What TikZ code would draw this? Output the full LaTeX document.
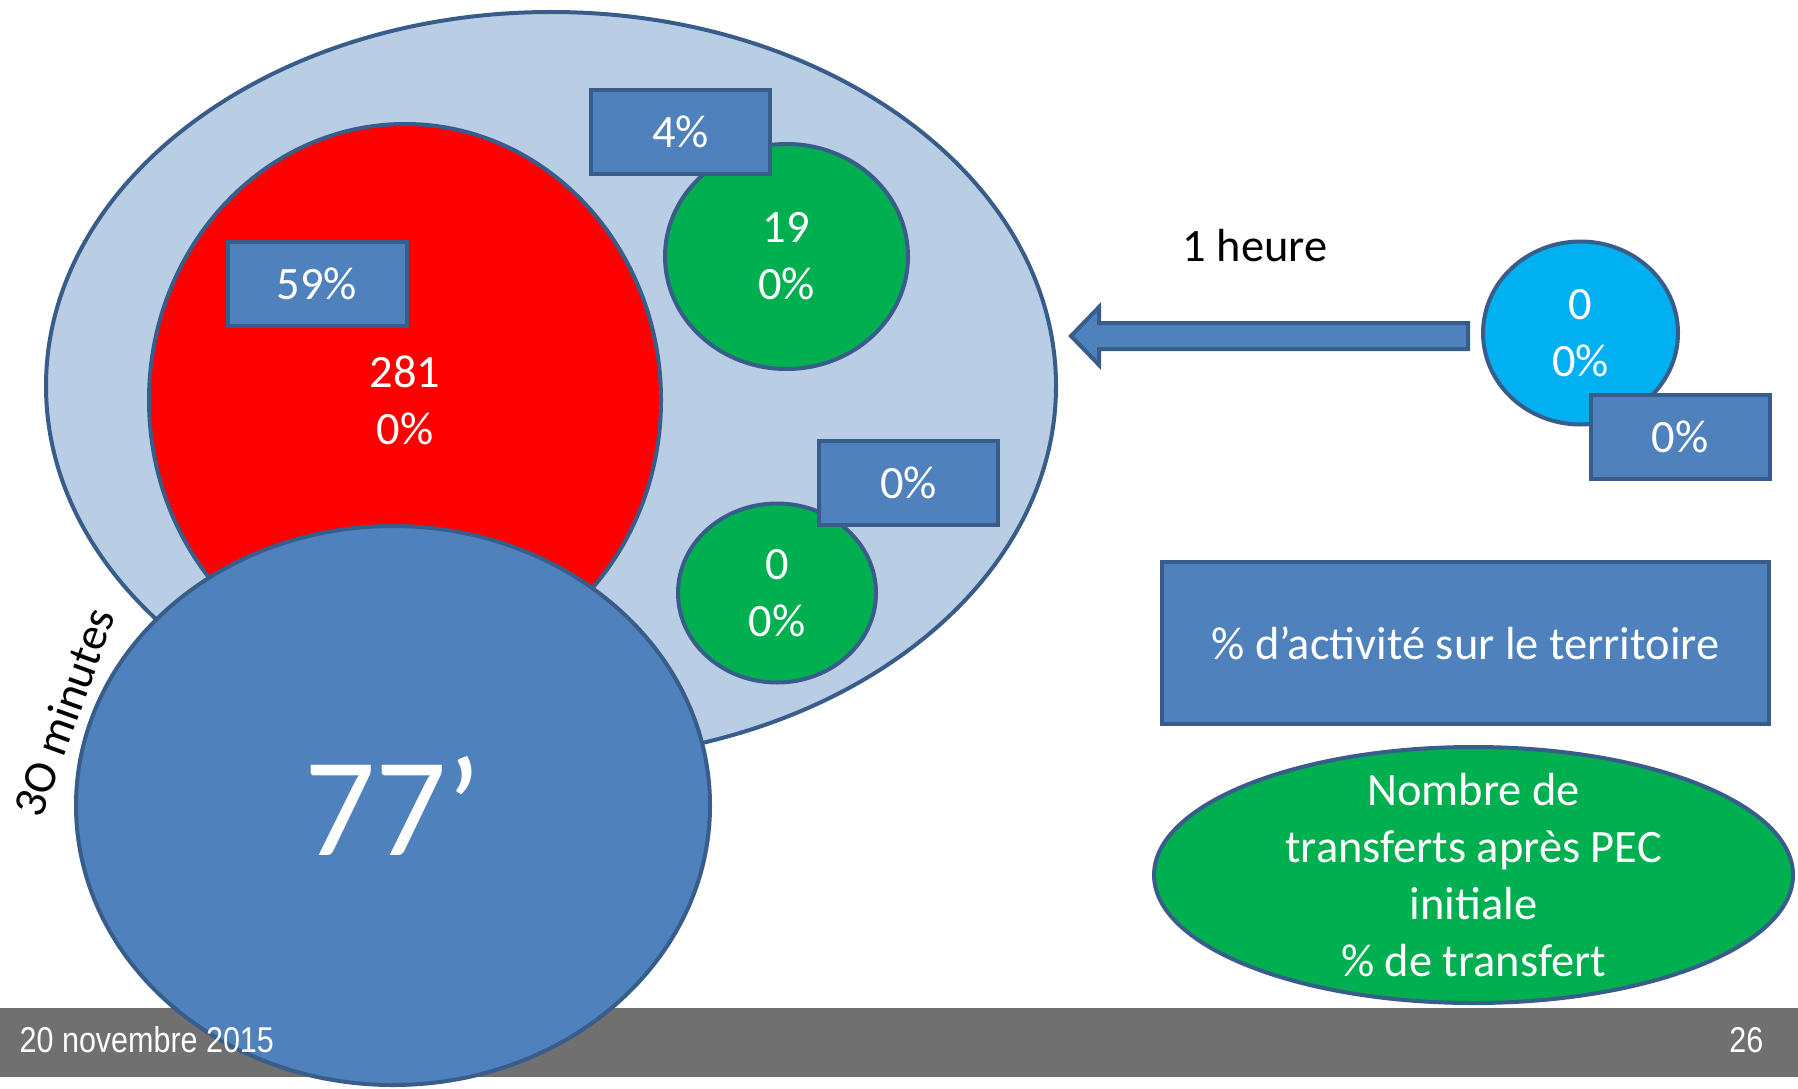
\documentclass[tikz,border=0pt]{standalone}
\usepackage{fontspec}
\setmainfont{Carlito}
\newfontfamily\footfont[FakeStretch=0.85]{Liberation Sans}
\usetikzlibrary{shapes.geometric}

\definecolor{lightblue}{HTML}{B9CDE5}
\definecolor{edgeblue}{HTML}{385D8A}
\definecolor{boxblue}{HTML}{4F81BD}
\definecolor{ptred}{HTML}{FF0000}
\definecolor{ptgreen}{HTML}{00B050}
\definecolor{ptcyan}{HTML}{00B0F0}
\definecolor{footgray}{HTML}{707070}

\newdimen\pxu
\pxu=0.01cm

\tikzset{
  zone/.style={ellipse, draw=edgeblue, line width=4\pxu, inner sep=0pt,
    text=white, align=center, font=\fontsize{13.2}{16.2}\selectfont},
  pctbox/.style={rectangle, draw=edgeblue, fill=boxblue, line width=4\pxu,
    inner sep=0pt, minimum width=179\pxu, minimum height=84\pxu,
    text=white, font=\fontsize{13.2}{16.2}\selectfont},
  blockarrow/.style={draw=edgeblue, fill=boxblue, line width=4\pxu, line join=miter}
}

\begin{document}
\begin{tikzpicture}[x=0.01cm,y=-0.01cm]
  \useasboundingbox (0,0) rectangle (1798,1088);
  % footer bar
  \fill[footgray] (0,1008) rectangle (1798,1077);

  % territory
  \node[zone, fill=lightblue, minimum width=1010\pxu, minimum height=748\pxu] (area) at (551,386) {};
  \node[zone, fill=ptred, minimum width=512\pxu, minimum height=552\pxu] (red) at (405,400) {281\\0\%};
  \node[pctbox] (redpct) at (317,284) {59\%};
  \node[zone, fill=ptgreen, minimum width=243\pxu, minimum height=225\pxu] (greenA) at (786.5,256.5) {19\\0\%};
  \node[pctbox] (greenApct) at (680.5,132) {4\%};
  \node[zone, fill=ptgreen, minimum width=198\pxu, minimum height=179\pxu] (greenB) at (777,593) {0\\0\%};
  \node[pctbox] (greenBpct) at (908.5,483) {0\%};
  \node[zone, fill=boxblue, minimum width=634\pxu, minimum height=559\pxu,
    font=\fontsize{40}{48}\selectfont] (delay) at (393,805.5) {77’};

  % outside site
  \draw[blockarrow] (1468,323) -- (1099,323) -- (1099,307) -- (1071,336)
    -- (1099,365) -- (1099,349) -- (1468,349) -- cycle;
  \node[zone, fill=ptcyan, minimum width=195\pxu, minimum height=183\pxu] (far) at (1580.5,333) {0\\0\%};
  \node[pctbox] (farpct) at (1680,437) {0\%};

  % legend
  \node[pctbox, minimum width=607\pxu, minimum height=162\pxu] (legbox) at (1465.5,643)
    {\% d’activité sur le territoire};
  \node[zone, fill=ptgreen, minimum width=639\pxu, minimum height=256\pxu] (legell) at (1473.5,875) {};
  \node[text=white, align=center, font=\fontsize{13.2}{16.2}\selectfont] (legtxt) at (legell.center)
    {Nombre de\\transferts après PEC\\initiale\\\% de transfert};

  % times
  \node[font=\fontsize{13.2}{16.2}\selectfont] (onehour) at (1255,246) {1 heure};
  \node[rotate=70, inner sep=0pt, font=\fontsize{13.2}{16.2}\selectfont] (halfhour) at (64,712) {3O minutes};

  % footer text
  \node[anchor=west, inner sep=0pt, text=white, font=\fontsize{10.2}{12}\footfont] (date) at (19,1040) {20 novembre 2015};
  \node[anchor=east, inner sep=0pt, text=white, font=\fontsize{10.2}{12}\footfont] (page) at (1764,1040) {26};
\end{tikzpicture}
\end{document}
